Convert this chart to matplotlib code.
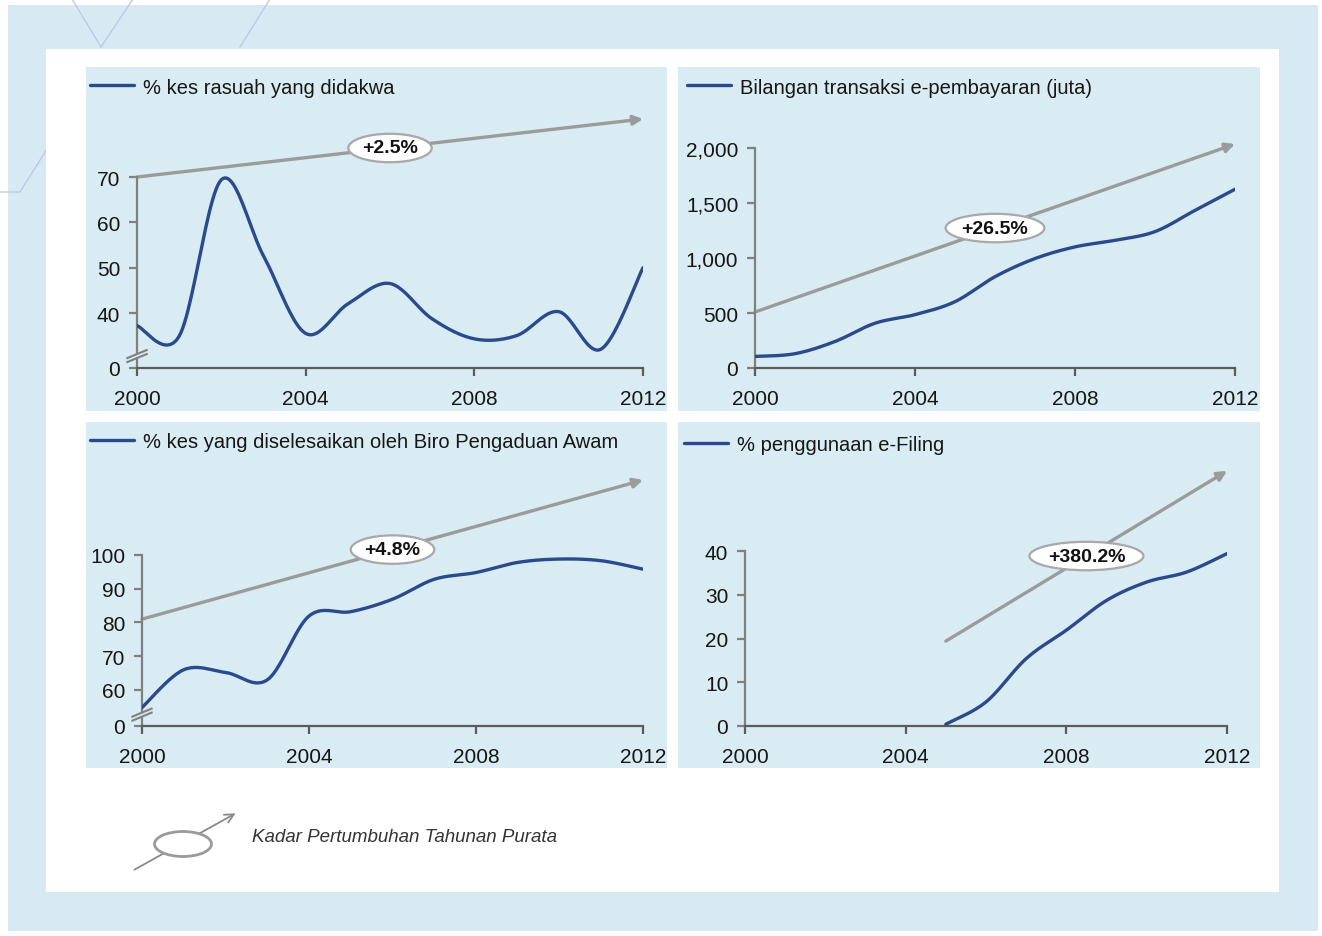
import numpy as np
import matplotlib
matplotlib.use('Agg')
import matplotlib.pyplot as plt
from matplotlib.patches import Rectangle, Ellipse, Polygon, FancyArrowPatch
from matplotlib.lines import Line2D

plt.rcParams['font.family'] = ['Liberation Sans', 'DejaVu Sans']

W, H = 1322, 937

# ---- data ----
years = list(range(2000, 2013))
rasuah = [37.2, 34.9, 69.4, 52.6, 35.5, 42.0, 46.5, 38.7, 34.3, 35.0, 40.3, 32.0, 50.0]
epay = [105, 130, 241, 407, 485, 603, 830, 995, 1101, 1161, 1240, 1433, 1625]
biro = [54.8, 66.0, 65.2, 63.0, 81.9, 83.2, 86.9, 92.8, 94.8, 97.8, 98.8, 98.3, 95.8]
years_ef = list(range(2005, 2013))
efiling = [0.4, 5.5, 15.4, 21.9, 28.7, 32.9, 35.2, 39.4]

titles = ['% kes rasuah yang didakwa',
          'Bilangan transaksi e-pembayaran (juta)',
          '% kes yang diselesaikan oleh Biro Pengaduan Awam',
          '% penggunaan e-Filing']
growth = ['+2.5%', '+26.5%', '+4.8%', '+380.2%']
trend_start = [(2000, 70), (2000, 509), (2000, 81), (2005, 19.4)]
trend_end = [(2012, 82.8), (2012, 2036), (2012, 122.2), (2012, 58.3)]

xticks = [2000, 2004, 2008, 2012]
yticks_tl = [40, 50, 60, 70]
yticks_tr = [0, 500, 1000, 1500, 2000]
yticks_bl = [60, 70, 80, 90, 100]
yticks_br = [0, 10, 20, 30, 40]

LINE = '#294a8c'
GREY = '#9b9b9b'
YAX = '#808080'
XAX = '#5c5c5c'
PANEL = '#d9ebf3'
OUTER = '#d7eaf3'
TXT = '#161616'


def fx(px):
    return px / W


def fy(py):
    return 1 - py / H


def smooth(x, y, steps=25):
    # excel style smoothed line (bezier through the points)
    p = np.column_stack([x, y]).astype(float)
    p = np.vstack([p[0], p, p[-1]])
    out = []
    t = np.linspace(0, 1, steps)[:, None]
    for i in range(1, len(p) - 2):
        p0, p1, p2, p3 = p[i - 1], p[i], p[i + 1], p[i + 2]
        c1 = p1 + (p2 - p0) / 6
        c2 = p2 - (p3 - p1) / 6
        seg = ((1 - t) ** 3) * p1 + 3 * ((1 - t) ** 2) * t * c1 + 3 * (1 - t) * t ** 2 * c2 + t ** 3 * p2
        out.append(seg if i == 1 else seg[1:])
    out = np.vstack(out)
    return out[:, 0], out[:, 1]


fig = plt.figure(figsize=(W / 100, H / 100), dpi=100)
fig.patch.set_facecolor('white')


def frect(x0, y0, x1, y1, color, z):
    fig.add_artist(Rectangle((fx(x0), fy(y1)), fx(x1) - fx(x0), fy(y0) - fy(y1),
                             transform=fig.transFigure, facecolor=color,
                             edgecolor='none', zorder=z))


frect(8, 6, 1318, 932, OUTER, -5)
# faint decorative lines in the background
for seg in [[(72, 0), (101, 48)], [(133, 0), (101, 48)], [(270, 0), (240, 48)],
            [(47, 150), (20, 193), (0, 193)]]:
    xs = [fx(a) for a, b in seg]
    ys = [fy(b) for a, b in seg]
    fig.add_artist(Line2D(xs, ys, transform=fig.transFigure, color='#bfc8e6', lw=1, zorder=-4))
frect(46, 50, 1279, 893, 'white', -3)
frect(86, 68, 667, 412, PANEL, -2)
frect(678, 68, 1260, 412, PANEL, -2)
frect(86, 423, 667, 769, PANEL, -2)
frect(678, 423, 1260, 769, PANEL, -2)

# pixel box of each plot: left, right, bottom px, value at bottom, px per unit, top px
specs = [
    (137, 643, 369, 27.87, 4.5333, 105),
    (755, 1235, 369, 0.0, 0.11, 130),
    (142, 643, 727, 49.33, 3.375, 470),
    (745, 1227, 727, 0.0, 4.375, 460),
]
legend_pos = [(90, 88), (687, 88), (90, 443), (684, 446)]

axes = []
for (l, r, b, v0, ppu, t) in specs:
    ax = fig.add_axes([fx(l), fy(b), fx(r) - fx(l), fy(t) - fy(b)])
    ax.set_facecolor('none')
    ax.set_xlim(2000, 2012)
    ax.set_ylim(v0, v0 + (b - t) / ppu)
    for s in ['top', 'right']:
        ax.spines[s].set_visible(False)
    ax.spines['left'].set_color(YAX)
    ax.spines['bottom'].set_color(XAX)
    for s in ['left', 'bottom']:
        ax.spines[s].set_linewidth(1.6)
    ax.set_xticks(xticks)
    ax.tick_params(axis='both', width=1.6, length=6, labelsize=15, labelcolor=TXT)
    ax.tick_params(axis='x', pad=9, colors=XAX, labelcolor=TXT)
    ax.tick_params(axis='y', pad=6, colors=YAX, labelcolor=TXT)
    axes.append(ax)

ax_tl, ax_tr, ax_bl, ax_br = axes

ax_tl.set_yticks([27.87] + yticks_tl)
ax_tl.set_yticklabels(['0'] + [str(v) for v in yticks_tl])
ax_tl.spines['left'].set_bounds(27.87, 70)

ax_tr.set_yticks(yticks_tr)
ax_tr.set_yticklabels(['{:,}'.format(v) for v in yticks_tr])
ax_tr.spines['left'].set_bounds(0, 2000)

ax_bl.set_yticks([49.33] + yticks_bl)
ax_bl.set_yticklabels(['0'] + [str(v) for v in yticks_bl])
ax_bl.spines['left'].set_bounds(49.33, 100)

ax_br.set_yticks(yticks_br)
ax_br.spines['left'].set_bounds(0, 40)

series = [(years, rasuah), (years, epay), (years, biro), (years_ef, efiling)]

for i, ax in enumerate(axes):
    xs, ys = smooth(*series[i])
    ax.plot(xs, ys, color=LINE, lw=2.4, label=titles[i], solid_capstyle='round', zorder=3)
    (x0, y0), (x1, y1) = trend_start[i], trend_end[i]
    ax.annotate('', xy=(x1, y1), xytext=(x0, y0), annotation_clip=False,
                arrowprops=dict(arrowstyle='-|>', color=GREY, lw=2.4, mutation_scale=14,
                                shrinkA=0, shrinkB=0), zorder=2)
    ax.text((x0 + x1) / 2, (y0 + y1) / 2, growth[i], ha='center', va='center',
            fontsize=14, fontweight='bold', color='#111111', zorder=4,
            bbox=dict(boxstyle='ellipse,pad=0.08', fc='white', ec='#a8a8a8', lw=1.6))
    lx, ly = legend_pos[i]
    ax.legend(loc='center left', bbox_to_anchor=(fx(lx), fy(ly)),
              bbox_transform=fig.transFigure, frameon=False, fontsize=14.5,
              handlelength=2.2, handletextpad=0.45, borderpad=0, borderaxespad=0,
              labelcolor=TXT)

# broken axis marks
for ax, yc, ppu in [(ax_tl, 30.5, 4.5333), (ax_bl, 52.7, 3.375)]:
    dx = 0.23
    dy = 4.0 / ppu
    gap = 4.0 / ppu
    ax.add_patch(Polygon([(2000 - dx, yc - dy - gap / 2), (2000 + dx, yc + dy - gap / 2),
                          (2000 + dx, yc + dy + gap / 2), (2000 - dx, yc - dy + gap / 2)],
                         closed=True, fc=PANEL, ec='none', clip_on=False, zorder=5))
    for off in (-gap / 2, gap / 2):
        ax.plot([2000 - dx, 2000 + dx], [yc - dy + off, yc + dy + off], color=YAX,
                lw=1.5, clip_on=False, zorder=6)

# key at the bottom
fig.add_artist(FancyArrowPatch(
    (fx(132), fy(872)), (fx(238), fy(813)), transform=fig.transFigure,
    arrowstyle='->', mutation_scale=16, color='#8a8a8a', lw=1.3, zorder=1))
fig.add_artist(Ellipse((fx(183), fy(845)), fx(57), 25 / H, transform=fig.transFigure,
                       fc='white', ec='#9a9a9a', lw=2, zorder=2))
fig.text(fx(252), fy(838), 'Kadar Pertumbuhan Tahunan Purata', fontsize=13.5,
         style='italic', color='#333333', va='center', ha='left')

plt.savefig('out.png', dpi=100, facecolor=fig.get_facecolor())
